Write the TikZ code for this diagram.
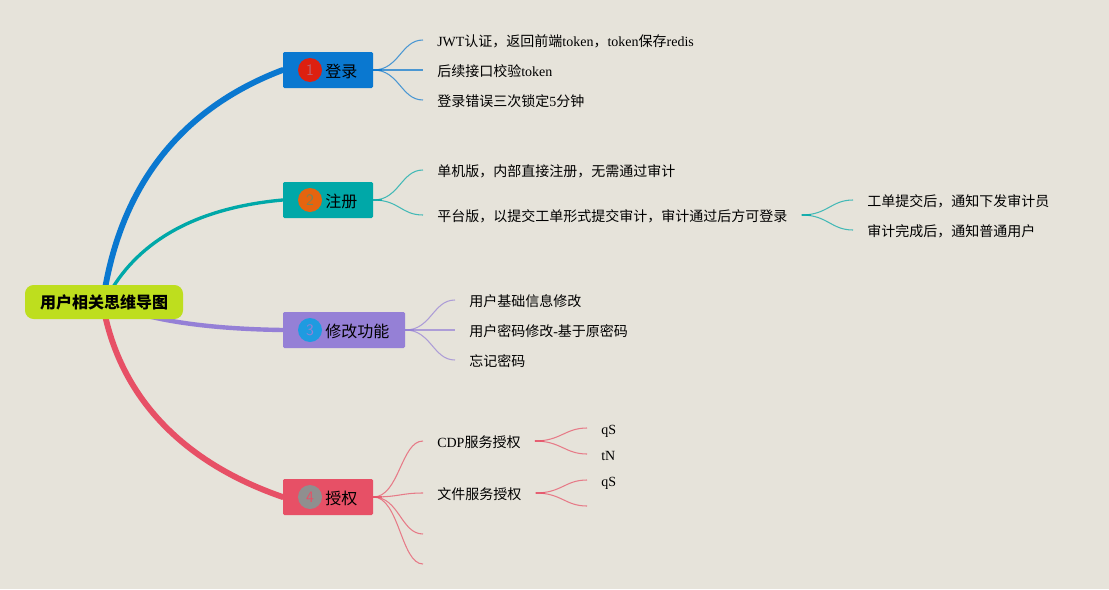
\documentclass[tikz,border=0pt]{standalone}
\usepackage{fontspec}
\setmainfont{Liberation Serif}
\newfontfamily\cjk{Noto Sans CJK SC}
\newcommand{\zh}[1]{{\cjk #1}}
\usetikzlibrary{positioning}
\pgfdeclarelayer{back}
\pgfsetlayers{back,main}
\definecolor{bgc}{HTML}{E6E3DA}
\definecolor{cblue}{HTML}{0A78D0}
\definecolor{cteal}{HTML}{00A8A8}
\definecolor{cpurp}{HTML}{9580D6}
\definecolor{cred}{HTML}{E75066}
\definecolor{clime}{HTML}{BEDE1E}
\definecolor{bred}{HTML}{DD2010}
\definecolor{borange}{HTML}{E5640F}
\definecolor{bblue}{HTML}{1E9BE0}
\definecolor{bgray}{HTML}{8F8F8F}
\tikzset{
  x=0.75pt,y=-0.75pt,
  rootbox/.style={fill=clime,rounded corners=6.5pt,minimum width=118.5pt,minimum height=25.5pt,inner sep=0pt,font=\fontsize{12}{14}\cjk\bfseries},
  mainbox/.style={rounded corners=1pt,minimum height=27pt,inner sep=0pt},
  badge/.style={circle,minimum size=18pt,inner sep=0pt,font=\fontsize{12}{14}\sffamily},
  maintext/.style={anchor=west,inner sep=0pt,font=\fontsize{12}{14}\cjk},
  leaf/.style={anchor=west,inner xsep=10.5pt,inner ysep=0pt,text height=11pt,text depth=1pt,font=\fontsize{10.5}{12}\selectfont},
  sprig/.style={line width=0.8pt,draw opacity=.7},
  stem/.style={line width=1.5pt,draw opacity=.7},
  trunk/.style={line cap=round},
}
\begin{document}
\begin{tikzpicture}
\useasboundingbox (0,0) rectangle (1109,589);
\begin{pgfonlayer}{back}
\fill[bgc] (0,0) rectangle (1109,589);
\end{pgfonlayer}

\node[rootbox] (root) at (104,302) {用户相关思维导图};

\node[mainbox,fill=cblue,minimum width=67.5pt] (login) at (328,70) {};
\node[mainbox,fill=cteal,minimum width=67.5pt] (reg) at (328,200) {};
\node[mainbox,fill=cpurp,minimum width=91.5pt] (edit) at (344,330) {};
\node[mainbox,fill=cred,minimum width=67.5pt] (auth) at (328,497) {};

\node[badge,fill=bred,text=cred!60!gray] (b1) at (310,70) {1};
\node[badge,fill=borange,text=cteal!50!borange] (b2) at (310,200) {2};
\node[badge,fill=bblue,text=cpurp] (b3) at (310,330) {3};
\node[badge,fill=bgray,text=cred] (b4) at (310,497) {4};

\node[maintext] (t1) at (325,71) {登录};
\node[maintext] (t2) at (325,201) {注册};
\node[maintext] (t3) at (325,331) {修改功能};
\node[maintext] (t4) at (325,498) {授权};

\node[leaf] (l1) at (423,40) {JWT\zh{认证，返回前端}token\zh{，}token\zh{保存}redis};
\node[leaf] (l2) at (423,70) {\zh{后续接口校验}token};
\node[leaf] (l3) at (423,100) {\zh{登录错误三次锁定}5\zh{分钟}};

\node[leaf] (r1) at (423,170) {\zh{单机版，内部直接注册，无需通过审计}};
\node[leaf] (r2) at (423,215) {\zh{平台版，以提交工单形式提交审计，审计通过后方可登录}};
\node[leaf] (r21) at (853,200) {\zh{工单提交后，通知下发审计员}};
\node[leaf] (r22) at (853,230) {\zh{审计完成后，通知普通用户}};

\node[leaf] (e1) at (455,300) {\zh{用户基础信息修改}};
\node[leaf] (e2) at (455,330) {\zh{用户密码修改}-\zh{基于原密码}};
\node[leaf] (e3) at (455,360) {\zh{忘记密码}};

\node[leaf] (a1) at (423,441) {CDP\zh{服务授权}};
\node[leaf] (a2) at (423,493) {\zh{文件服务授权}};
\coordinate (a3) at (423,534);
\coordinate (a4) at (423,564);

\node[leaf] (a11) at (587,428) {qS};
\node[leaf] (a12) at (587,454) {tN};
\node[leaf] (a21) at (587,480) {qS};
\coordinate (a22) at (587,506);

\begin{pgfonlayer}{back}
\draw[trunk,cblue,line width=4.4pt] (root.north) ++(1,4) .. controls (125,175) and (190,105) .. (login.west);
\draw[trunk,cteal,line width=2.5pt] (root.north) ++(8,4) .. controls (145,235) and (205,207) .. (reg.west);
\draw[trunk,cpurp,line width=3.3pt] (root.center) .. controls (150,322) and (215,329) .. (edit.west);
\draw[trunk,cred,line width=4.4pt] (root.south) ++(1,-4) .. controls (125,405) and (190,465) .. (auth.west);

\foreach \a/\b in {login/l1,login/l2,login/l3}
  \draw[sprig,cblue] (\a.east) .. controls +(26,0) and +(-22,0) .. (\b.west);
\foreach \a/\b in {reg/r1,reg/r2}
  \draw[sprig,cteal] (\a.east) .. controls +(26,0) and +(-22,0) .. (\b.west);
\foreach \a/\b in {edit/e1,edit/e2,edit/e3}
  \draw[sprig,cpurp] (\a.east) .. controls +(26,0) and +(-22,0) .. (\b.west);
\foreach \a/\b in {auth/a1,auth/a2,auth/a3,auth/a4}
  \draw[sprig,cred] (\a.east) .. controls +(26,0) and +(-22,0) .. (\b.west);
\foreach \a/\b in {r2/r21,r2/r22}
  \draw[sprig,cteal] (\a.east) .. controls +(26,0) and +(-22,0) .. (\b.west);
\foreach \a/\b in {a1/a11,a1/a12,a2/a21,a2/a22}
  \draw[sprig,cred] (\a.east) .. controls +(26,0) and +(-22,0) .. (\b.west);
\foreach \a/\c in {login/cblue,reg/cteal,edit/cpurp,auth/cred,r2/cteal,a1/cred,a2/cred}
  \draw[stem,\c] (\a.east) -- ++(9,0);
\end{pgfonlayer}
\end{tikzpicture}
\end{document}
